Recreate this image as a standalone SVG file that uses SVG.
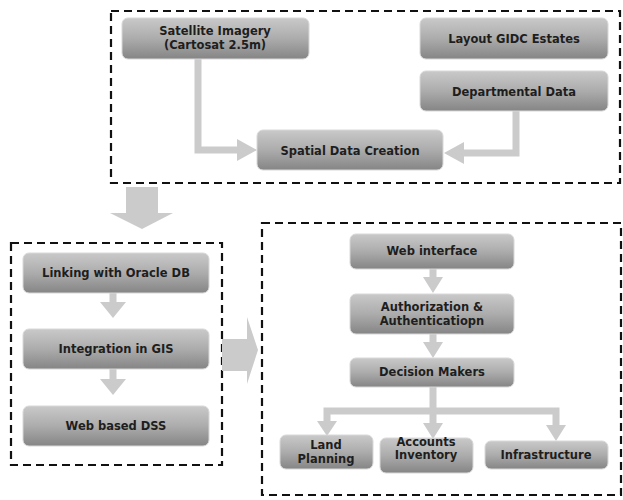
<svg xmlns="http://www.w3.org/2000/svg" width="623" height="500" viewBox="0 0 623 500">
<defs>
<linearGradient id="g" x1="0" y1="0" x2="0" y2="1">
<stop offset="0" stop-color="#c9c9c9"/>
<stop offset="0.5" stop-color="#acacac"/>
<stop offset="1" stop-color="#858585"/>
</linearGradient>
<style>
.n{fill:url(#g);stroke:#d8d8d8;stroke-width:1}
.t{font-family:"DejaVu Sans",Verdana,sans-serif;font-weight:bold;font-size:11.5px;fill:#1e1e1e;text-anchor:middle}
.d{fill:none;stroke:#111;stroke-width:2.2;stroke-dasharray:8,5}
.c{fill:none;stroke:#cbcbcb;stroke-width:7}
.h{fill:#cbcbcb}
</style>
</defs>
<rect width="623" height="500" fill="#fff"/>
<g id="frames">
<rect class="d" x="111" y="11" width="509" height="172"/>
<rect class="d" x="11" y="243" width="211" height="222"/>
<rect class="d" x="262" y="223" width="359" height="272"/>
</g>
<g id="connectors">
<polyline class="c" points="198,59 198,150 240,150"/>
<polygon class="h" points="237,139 257,150 237,161"/>
<polyline class="c" points="516,111 516,153 462,153"/>
<polygon class="h" points="464,142 444,153 464,164"/>
<polygon class="h" points="126,187 158,187 158,213 173,213 142,229 110,213 126,213"/>
<line class="c" x1="113" y1="293" x2="113" y2="303"/>
<polygon class="h" points="100,302 126,302 113,318"/>
<line class="c" x1="113" y1="369" x2="113" y2="380"/>
<polygon class="h" points="100,379 126,379 113,395"/>
<polygon class="h" points="222,339 247,339 247,317 258,350 247,384 247,371 222,371"/>
<line class="c" x1="433" y1="269" x2="433" y2="278"/>
<polygon class="h" points="423,277 443,277 433,293"/>
<line class="c" x1="433" y1="334" x2="433" y2="343"/>
<polygon class="h" points="423,342 443,342 433,358"/>
<polyline class="c" points="327,423 327,411 556,411 556,425"/>
<line class="c" x1="433" y1="387" x2="433" y2="425"/>
<polygon class="h" points="317,421 337,421 327,436"/>
<polygon class="h" points="423,423 443,423 433,439"/>
<polygon class="h" points="546,425 566,425 556,441"/>
</g>
<g id="n-satellite"><rect class="n" x="122" y="18" width="187" height="41" rx="6"/><text class="t" x="215" y="35">Satellite Imagery</text><text class="t" x="215" y="49">(Cartosat 2.5m)</text></g>
<g id="n-layout"><rect class="n" x="420" y="18" width="188" height="41" rx="6"/><text class="t" x="514" y="43">Layout GIDC Estates</text></g>
<g id="n-dept"><rect class="n" x="420" y="71" width="188" height="40" rx="6"/><text class="t" x="514" y="96">Departmental Data</text></g>
<g id="n-spatial"><rect class="n" x="257" y="130" width="186" height="40" rx="6"/><text class="t" x="350" y="155">Spatial Data Creation</text></g>
<g id="n-oracle"><rect class="n" x="23" y="253" width="186" height="40" rx="6"/><text class="t" x="116" y="277">Linking with Oracle DB</text></g>
<g id="n-gis"><rect class="n" x="23" y="329" width="186" height="40" rx="6"/><text class="t" x="116" y="353">Integration in GIS</text></g>
<g id="n-dss"><rect class="n" x="23" y="406" width="186" height="40" rx="6"/><text class="t" x="116" y="430">Web based DSS</text></g>
<g id="n-web"><rect class="n" x="350" y="234" width="164" height="35" rx="6"/><text class="t" x="432" y="255">Web interface</text></g>
<g id="n-auth"><rect class="n" x="350" y="294" width="164" height="40" rx="6"/><text class="t" x="432" y="311">Authorization &amp;</text><text class="t" x="432" y="325">Authenticatiopn</text></g>
<g id="n-decision"><rect class="n" x="350" y="358" width="164" height="29" rx="6"/><text class="t" x="432" y="376">Decision Makers</text></g>
<g id="n-land"><rect class="n" x="280" y="435" width="93" height="34" rx="6"/><text class="t" x="326" y="449">Land</text><text class="t" x="326" y="463">Planning</text></g>
<g id="n-accounts"><rect class="n" x="380" y="438" width="93" height="35" rx="6"/><text class="t" x="426" y="446">Accounts</text><text class="t" x="426" y="459">Inventory</text></g>
<g id="n-infra"><rect class="n" x="485" y="441" width="123" height="28" rx="6"/><text class="t" x="546" y="459">Infrastructure</text></g>
</svg>
